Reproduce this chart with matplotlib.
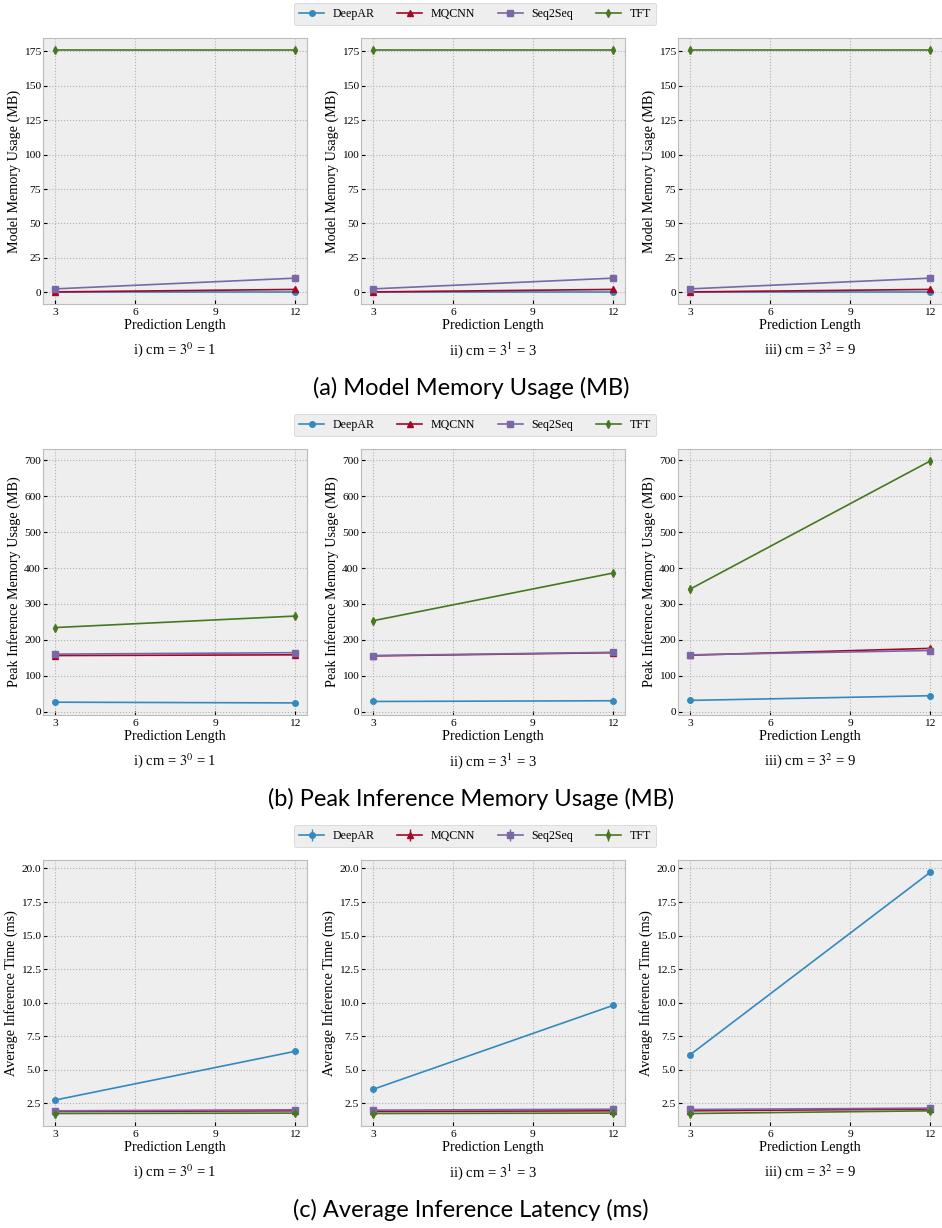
import matplotlib
matplotlib.use('Agg')
import matplotlib.pyplot as plt
from matplotlib.ticker import MultipleLocator, FormatStrFormatter

plt.style.use('bmh')
plt.rcParams['font.family'] = ['Liberation Serif', 'DejaVu Serif']
plt.rcParams['mathtext.fontset'] = 'stix'

W, H = 942, 1228

pred_len = [3, 12]
models = ['DeepAR', 'MQCNN', 'Seq2Seq', 'TFT']
colors = ['#348ABD', '#A60628', '#7A68A6', '#467821']
markers = ['o', '^', 's', 'd']
panel_titles = ['i) cm = $3^0$ = 1', 'ii) cm = $3^1$ = 3', 'iii) cm = $3^2$ = 9']

# (a) Model Memory Usage (MB): [panel] -> values at pred_len
mem_deepar = [[0.3, 0.3], [0.3, 0.3], [0.3, 0.3]]
mem_mqcnn = [[0.2, 2.0], [0.2, 2.0], [0.2, 2.0]]
mem_seq2seq = [[2.4, 10.2], [2.4, 10.2], [2.4, 10.2]]
mem_tft = [[176.0, 176.0], [176.0, 176.0], [176.0, 176.0]]

# (b) Peak Inference Memory Usage (MB)
peak_deepar = [[26, 24], [28, 30], [31, 44]]
peak_mqcnn = [[156, 158], [155, 164], [157, 176]]
peak_seq2seq = [[160, 164], [156, 165], [158, 170]]
peak_tft = [[234, 266], [253, 386], [341, 698]]

# (c) Average Inference Latency (ms)
lat_deepar = [[2.75, 6.38], [3.55, 9.8], [6.12, 19.7]]
lat_mqcnn = [[1.9, 1.95], [1.9, 1.95], [1.95, 2.08]]
lat_seq2seq = [[1.95, 2.03], [2.0, 2.07], [2.05, 2.15]]
lat_tft = [[1.75, 1.78], [1.75, 1.78], [1.75, 1.95]]
lat_err = [0.03, 0.03]

rows = [
    ([mem_deepar, mem_mqcnn, mem_seq2seq, mem_tft], 'Model Memory Usage (MB)',
     '(a) Model Memory Usage (MB)', 25, False),
    ([peak_deepar, peak_mqcnn, peak_seq2seq, peak_tft], 'Peak Inference Memory Usage (MB)',
     '(b) Peak Inference Memory Usage (MB)', 100, False),
    ([lat_deepar, lat_mqcnn, lat_seq2seq, lat_tft], 'Average Inference Time (ms)',
     '(c) Average Inference Latency (ms)', 2.5, True),
]

fig = plt.figure(figsize=(W / 100, H / 100), dpi=100)
fig.patch.set_facecolor('white')

col_left = [43, 361, 678]
ax_w = 264
row_top = [38, 449, 860]
ax_h = 266

for r, (series, ylabel, caption, step, err) in enumerate(rows):
    axes = []
    for c in range(3):
        l = col_left[c] / W
        b = 1 - (row_top[r] + ax_h) / H
        ax = fig.add_axes([l, b, ax_w / W, ax_h / H],
                          sharey=axes[0] if axes else None)
        axes.append(ax)
        handles = []
        for m, name in enumerate(models):
            vals = series[m][c]
            if err:
                h = ax.errorbar(pred_len, vals, yerr=lat_err, color=colors[m],
                                marker=markers[m], markersize=4, lw=1.2,
                                elinewidth=1.0, capsize=0, label=name)
            else:
                h, = ax.plot(pred_len, vals, color=colors[m], marker=markers[m],
                             markersize=4, lw=1.2, label=name)
            handles.append(h)
        ax.set_xticks([3, 6, 9, 12])
        ax.yaxis.set_major_locator(MultipleLocator(step))
        ax.tick_params(labelsize=8.2, labelleft=True, length=3)
        ax.tick_params(axis='x', pad=3.2)
        ax.tick_params(axis='y', pad=1.5)
        ax.set_xlabel('Prediction Length', fontsize=10.2, labelpad=1)
        ax.set_ylabel(ylabel, fontsize=10.2, labelpad=2)
        ax.grid(True, color='#b2b2b2', linestyle=':', linewidth=0.8)
        ax.set_facecolor('#eeeeee')
        for s in ax.spines.values():
            s.set_color('#bcbcbc')
        cx = (col_left[c] + ax_w / 2) / W
        fig.text(cx, 1 - (row_top[r] + 312) / H, panel_titles[c],
                 ha='center', va='center', fontsize=10.5)
    if err:
        axes[0].yaxis.set_major_formatter(FormatStrFormatter('%.1f'))
    fig.legend(handles, models, loc='center', ncol=4,
               bbox_to_anchor=(475 / W, 1 - (row_top[r] - 24) / H),
               fontsize=8.6, frameon=True, facecolor='#eeeeee', edgecolor='#d0d0d0',
               framealpha=1, columnspacing=1.9, handlelength=2.1,
               handletextpad=0.7, borderpad=0.45)
    fig.text(471 / W, 1 - (row_top[r] + 350) / H, caption, ha='center', va='center',
             fontsize=17, family=['Lato', 'DejaVu Sans'])

fig.savefig('out.png', dpi=100, facecolor='white')
